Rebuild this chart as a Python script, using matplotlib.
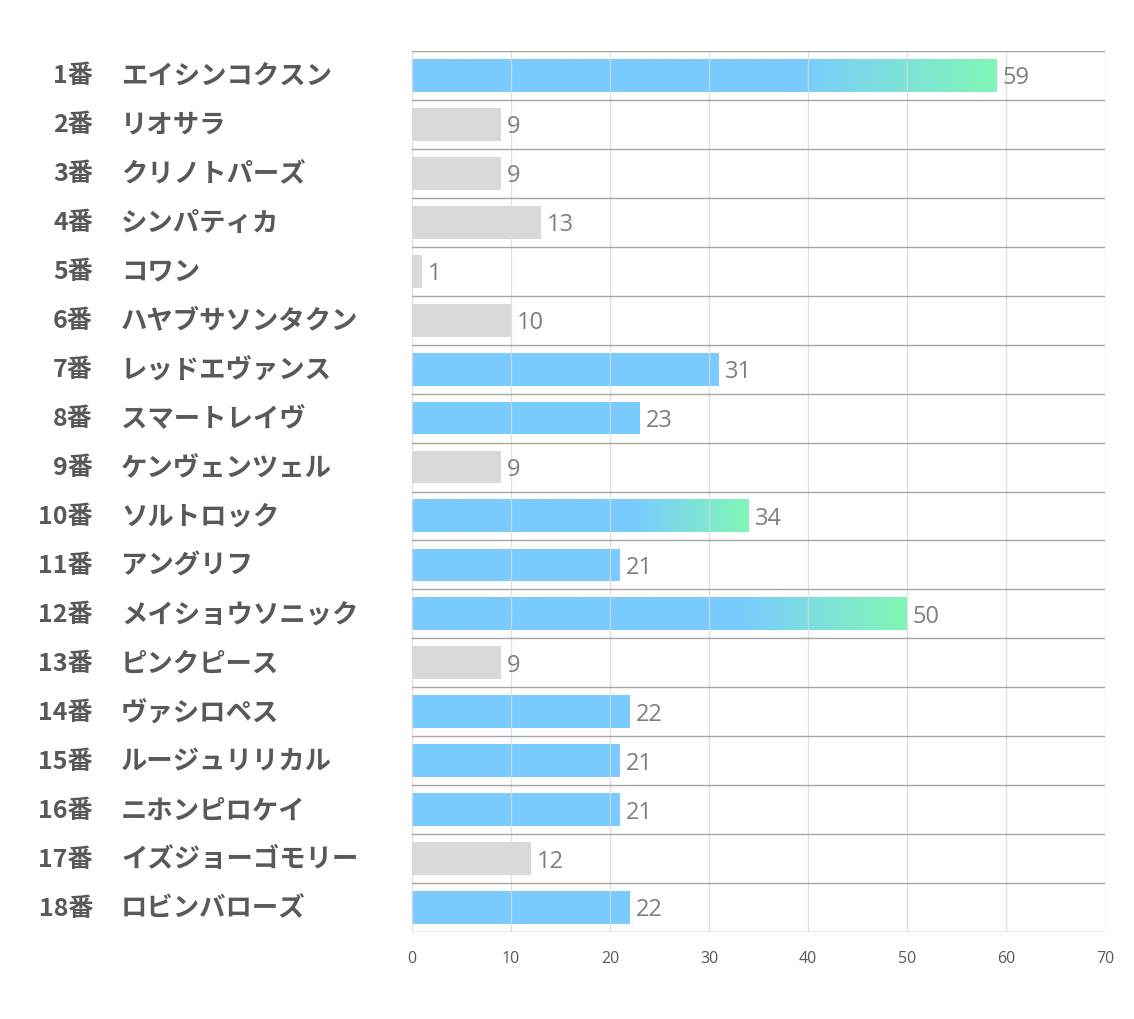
import matplotlib
matplotlib.use("Agg")
import matplotlib.pyplot as plt
import numpy as np
from matplotlib.colors import LinearSegmentedColormap

plt.rcParams['font.family'] = ['Noto Sans CJK JP', 'DejaVu Sans']

numbers = [f"{i}番" for i in range(1, 19)]
names = ["エイシンコクスン", "リオサラ", "クリノトパーズ", "シンパティカ", "コワン",
         "ハヤブサソンタクン", "レッドエヴァンス", "スマートレイヴ", "ケンヴェンツェル",
         "ソルトロック", "アングリフ", "メイショウソニック", "ピンクピース", "ヴァシロペス",
         "ルージュリリカル", "ニホンピロケイ", "イズジョーゴモリー", "ロビンバローズ"]
values = [59, 9, 9, 13, 1, 10, 31, 23, 9, 34, 21, 50, 9, 22, 21, 21, 12, 22]
kind = ["grad", "gray", "gray", "gray", "gray", "gray", "blue", "blue", "gray",
        "grad", "blue", "grad", "gray", "blue", "blue", "blue", "gray", "blue"]
xticks = [0, 10, 20, 30, 40, 50, 60, 70]

BLUE = "#7ACBFF"
GREEN = "#80F7B6"
GRAY = "#D9D9D9"

fig = plt.figure(figsize=(11.34, 10.2), dpi=100)
W, H = 1134, 1020
left, right, top, bottom = 412, 1105, 52, 933
ax = fig.add_axes([left / W, 1 - bottom / H, (right - left) / W, (bottom - top) / H])

n = len(values)
ax.set_xlim(0, 70)
ax.set_ylim(n, 0)
bh = 0.67

cm2 = LinearSegmentedColormap.from_list("g2", [BLUE, GREEN])
for i, (v, k) in enumerate(zip(values, kind)):
    yc = i + 0.5
    if k == "gray":
        ax.barh(yc, v, height=bh, color=GRAY, zorder=2)
    elif k == "blue":
        ax.barh(yc, v, height=bh, color=BLUE, zorder=2)
    else:
        grad = np.linspace(0, 1, 256).reshape(1, -1)
        grad = np.clip((grad - 0.66) / 0.34, 0, 1)
        ax.imshow(grad, cmap=cm2, aspect="auto", extent=(0, v, yc + bh / 2, yc - bh / 2),
                  zorder=2, interpolation="bilinear")
    ax.text(v + 0.6, yc + 0.04, str(v), va="center", ha="left", fontsize=17,
            color="#7F7F7F", zorder=4, family=["Open Sans", "DejaVu Sans"])
    ypos = 1 - (top + (i + 0.5) * (bottom - top) / n) / H
    fig.text(93 / W, ypos, numbers[i],
             ha="right", va="center", fontsize=18, fontweight="bold", color="#595959")
    fig.text(121 / W, ypos, names[i],
             ha="left", va="center", fontsize=19, fontweight="bold", color="#595959")

ax.set_ylim(n, 0)
ax.set_xlim(0, 70)

for x in xticks:
    ax.axvline(x, color="#D9D9D9", lw=1, zorder=3, alpha=0.8)
for y in range(n + 1):
    ax.axhline(y, color="#A6A6A6", lw=1, zorder=3)

for s in ax.spines.values():
    s.set_visible(False)
ax.set_yticks([])
ax.set_xticks(xticks)
ax.tick_params(axis="x", length=0, pad=13, labelsize=11.5, labelcolor="#595959")
for lab in ax.get_xticklabels():
    lab.set_family(["Open Sans", "DejaVu Sans"])

fig.savefig("out.png", dpi=100, facecolor="white")
